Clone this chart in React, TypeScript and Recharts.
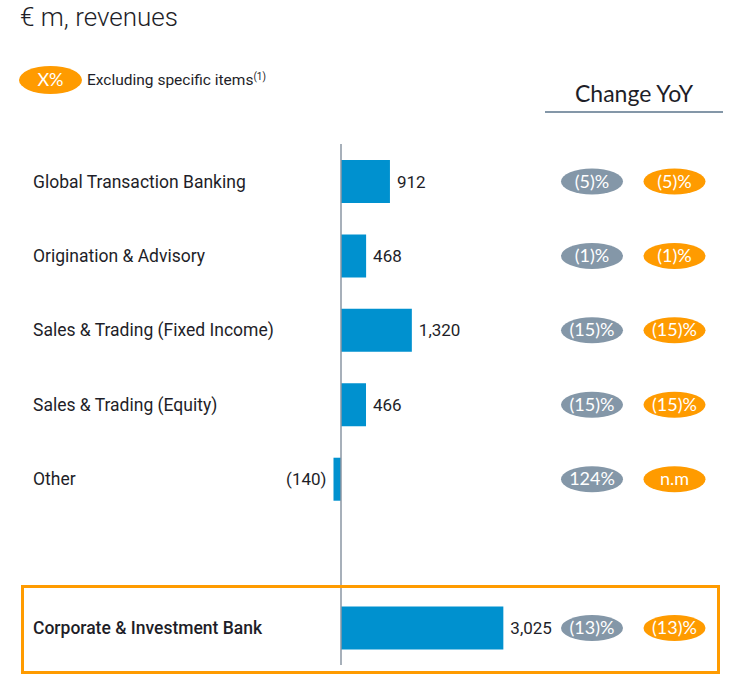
import React from 'react';
import { BarChart, Bar, XAxis, YAxis, ReferenceLine, LabelList } from 'recharts';

const categories = [
  'Global Transaction Banking',
  'Origination & Advisory',
  'Sales & Trading (Fixed Income)',
  'Sales & Trading (Equity)',
  'Other',
  '',
  'Corporate & Investment Bank',
];
const revenues = [912, 468, 1320, 466, -140, null, 3025];
const changeReported = ['(5)%', '(1)%', '(15)%', '(15)%', '124%', '', '(13)%'];
const changeExSpecific = ['(5)%', '(1)%', '(15)%', '(15)%', 'n.m', '', '(13)%'];

const BLUE = '#0091cf';
const ORANGE = '#ff9b00';
const GREY = '#8497a8';
const TEXT = '#1e1e28';
const FONT = 'Roboto, sans-serif';
const PILL_FONT = 'Lato, sans-serif';

const data = categories.map((name, i) => ({
  name,
  value: revenues[i],
  rep: changeReported[i],
  exs: changeExSpecific[i],
}));

const fmt = (v: number) => {
  const s = Math.abs(v).toLocaleString('en-US');
  return v < 0 ? `(${s})` : s;
};

const box = (p: any) => {
  const vb = p.viewBox && p.viewBox.height != null ? p.viewBox : p;
  const x = Number(vb.x), w = Number(vb.width);
  return { left: Math.min(x, x + w), right: Math.max(x, x + w), cy: Number(vb.y) + Number(vb.height) / 2 };
};

const NameLabel = (p: any) => {
  if (!p.value) return null;
  const { cy } = box(p);
  const bold = p.value === categories[categories.length - 1];
  return (
    <text x={33} y={cy} dy={6} fontFamily={FONT} fontSize={17.5} fontWeight={bold ? 500 : 400} fill={TEXT}>
      {p.value}
    </text>
  );
};

const ValueLabel = (p: any) => {
  if (p.value == null) return null;
  const { left, right, cy } = box(p);
  const neg = p.value < 0;
  return (
    <text x={neg ? left - 7 : right + 7} y={cy} dy={6} textAnchor={neg ? 'end' : 'start'}
      fontFamily={FONT} fontSize={17} fill={TEXT}>
      {fmt(p.value)}
    </text>
  );
};

const pill = (cx: number, color: string) => (p: any) => {
  if (!p.value) return null;
  const { cy } = box(p);
  return (
    <g>
      <ellipse cx={cx} cy={cy} rx={31} ry={13} fill={color} />
      <text x={cx} y={cy} dy={6} textAnchor="middle" fontFamily={PILL_FONT} fontSize={18} fill="#fff">
        {p.value}
      </text>
    </g>
  );
};

export default function App() {
  return (
    <div style={{ position: 'absolute', left: 0, top: 0, width: 729, height: 682, background: '#fff', overflow: 'hidden' }}>
      <svg style={{ position: 'absolute', left: 0, top: 0 }} width={729} height={130}>
        <text x={20} y={26} fontFamily={FONT} fontWeight={300} fontSize={26} fill={TEXT}>€ m, revenues</text>
        <ellipse cx={50.5} cy={80} rx={31.5} ry={14} fill={ORANGE} />
        <text x={50.5} y={80} dy={6} textAnchor="middle" fontFamily={PILL_FONT} fontSize={18} fill="#fff">X%</text>
        <text x={87} y={80} dy={5} fontFamily={FONT} fontSize={15.5} fill={TEXT}>
          Excluding specific items<tspan fontSize={10} dy={-5}>(1)</tspan>
        </text>
        <text x={634} y={102} textAnchor="middle" fontFamily={PILL_FONT} fontSize={23} fill={TEXT}>Change YoY</text>
        <line x1={545} x2={723} y1={112} y2={112} stroke={GREY} strokeWidth={2} />
      </svg>
      <div style={{ position: 'absolute', left: 0, top: 0 }}>
        <BarChart width={729} height={682} data={data} layout="vertical"
          margin={{ top: 144, right: 66, bottom: 17, left: 19 }}>
          <XAxis type="number" domain={[-6000, 6000]} hide />
          <YAxis type="category" dataKey="name" hide />
          <ReferenceLine x={0} stroke="#8a96a3" strokeWidth={1.5} ifOverflow="extendDomain" />
          <Bar dataKey="value" fill={BLUE} barSize={43} isAnimationActive={false}>
            <LabelList dataKey="name" content={NameLabel} />
            <LabelList dataKey="value" content={ValueLabel} />
            <LabelList dataKey="rep" content={pill(592, GREY)} />
            <LabelList dataKey="exs" content={pill(674.5, ORANGE)} />
          </Bar>
        </BarChart>
      </div>
      <div style={{ position: 'absolute', left: 21, top: 585, width: 693, height: 83, border: `3px solid ${ORANGE}` }} />
    </div>
  );
}
